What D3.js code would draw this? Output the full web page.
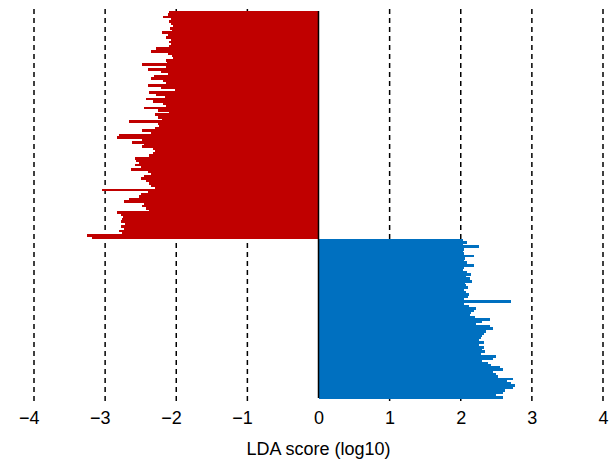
<!DOCTYPE html>
<html><head><meta charset="utf-8">
<script src="https://cdn.jsdelivr.net/npm/d3@7"></script>
<style>body{margin:0;background:#fff}svg{display:block}</style>
</head><body>
<script>
// LDA scores (log10) for features enriched in each group, top to bottom
const redScores = [
 -2.10,-2.12,-2.18,-2.08,-2.10,-2.07,-2.05,-2.09,-2.06,-2.20,-2.12,-2.15,-2.07,-2.10,
 -2.08,-2.10,-2.28,-2.35,-2.12,-2.06,-2.05,-2.15,-2.13,-2.48,-2.15,-2.40,-2.22,-2.12,
 -2.31,-2.36,-2.18,-2.15,-2.40,-2.22,-2.02,-2.39,-2.28,-2.16,-2.43,-2.33,-2.18,-2.15,-2.45,-2.25,-2.10,-2.30,-2.25,-2.20,
 -2.66,-2.25,-2.24,-2.30,-2.48,-2.35,-2.81,-2.83,-2.48,-2.62,-2.45,-2.48,
 -2.33,-2.30,-2.33,-2.38,-2.58,-2.56,-2.52,-2.58,-2.50,-2.64,-2.40,-2.35,-2.45,-2.50,-2.42,-2.38,-2.35,-2.30,
 -3.04,-2.40,-2.50,-2.52,-2.67,-2.74,-2.45,-2.48,-2.42,-2.38,-2.83,-2.78,-2.75,-2.76,-2.78,-2.72,-2.78,-2.74,-2.80,-2.76,-3.26,-3.18
];
const blueScores = [
 2.03,2.09,2.03,2.26,2.05,2.03,2.04,2.18,2.06,2.05,2.09,2.19,2.04,2.03,2.09,2.14,2.08,2.13,2.16,2.06,2.08,2.10,2.05,2.07,2.12,2.10,2.05,2.70,2.04,2.12,2.22,2.18,2.15,2.13,2.20,2.41,
 2.30,2.22,2.41,2.46,2.35,2.33,2.30,2.28,2.25,2.33,2.26,2.32,2.30,2.34,2.28,2.49,2.45,2.30,2.38,2.42,2.55,2.60,2.45,2.50,2.52,2.74,2.65,2.70,2.76,2.74,2.62,2.60,2.50,2.60
];
const tickValues = [-4,-3,-2,-1,0,1,2,3,4];
const xLabel = "LDA score (log10)";
const colors = {red:"#C00000", blue:"#0070C0"};

const W=609,H=461;
const svg=d3.select("body").append("svg").attr("width",W).attr("height",H);
const rows = redScores.map((v,i)=>({id:"r"+i,v,g:"red"})).concat(blueScores.map((v,i)=>({id:"b"+i,v,g:"blue"})));
const x=d3.scaleLinear().domain([-4,4]).range([34,603]);
const y=d3.scaleBand().domain(rows.map(d=>d.id)).range([11,398]).padding(0);

// dashed grid lines
svg.append("g").selectAll("line").data(tickValues.filter(t=>t!==0)).join("line")
 .attr("x1",d=>x(d)).attr("x2",d=>x(d)).attr("y1",9).attr("y2",401)
 .attr("stroke","#000").attr("stroke-width",1.5).attr("stroke-dasharray","5,4");

svg.append("g").attr("shape-rendering","crispEdges").selectAll("rect").data(rows).join("rect")
 .attr("x",d=>x(Math.min(0,d.v))).attr("width",d=>Math.abs(x(d.v)-x(0)))
 .attr("y",d=>y(d.id)).attr("height",y.bandwidth()+0.6)
 .attr("fill",d=>colors[d.g]);

svg.append("line").attr("x1",x(0)).attr("x2",x(0)).attr("y1",11).attr("y2",398)
 .attr("stroke","#000").attr("stroke-width",1.5);

const ax=svg.append("g").attr("transform","translate(0,401)")
 .call(d3.axisBottom(x).tickValues(tickValues).tickSize(0).tickPadding(10));
ax.select(".domain").remove();
ax.selectAll("text").attr("font-family","Liberation Sans, Arial, sans-serif").attr("font-size",18).attr("fill","#000")
 .attr("text-anchor","end").attr("dx",5);

svg.append("text").attr("x",x(0)).attr("y",455).attr("text-anchor","middle")
 .attr("font-family","Liberation Sans, Arial, sans-serif").attr("font-size",18).text(xLabel);
</script>
</body></html>
